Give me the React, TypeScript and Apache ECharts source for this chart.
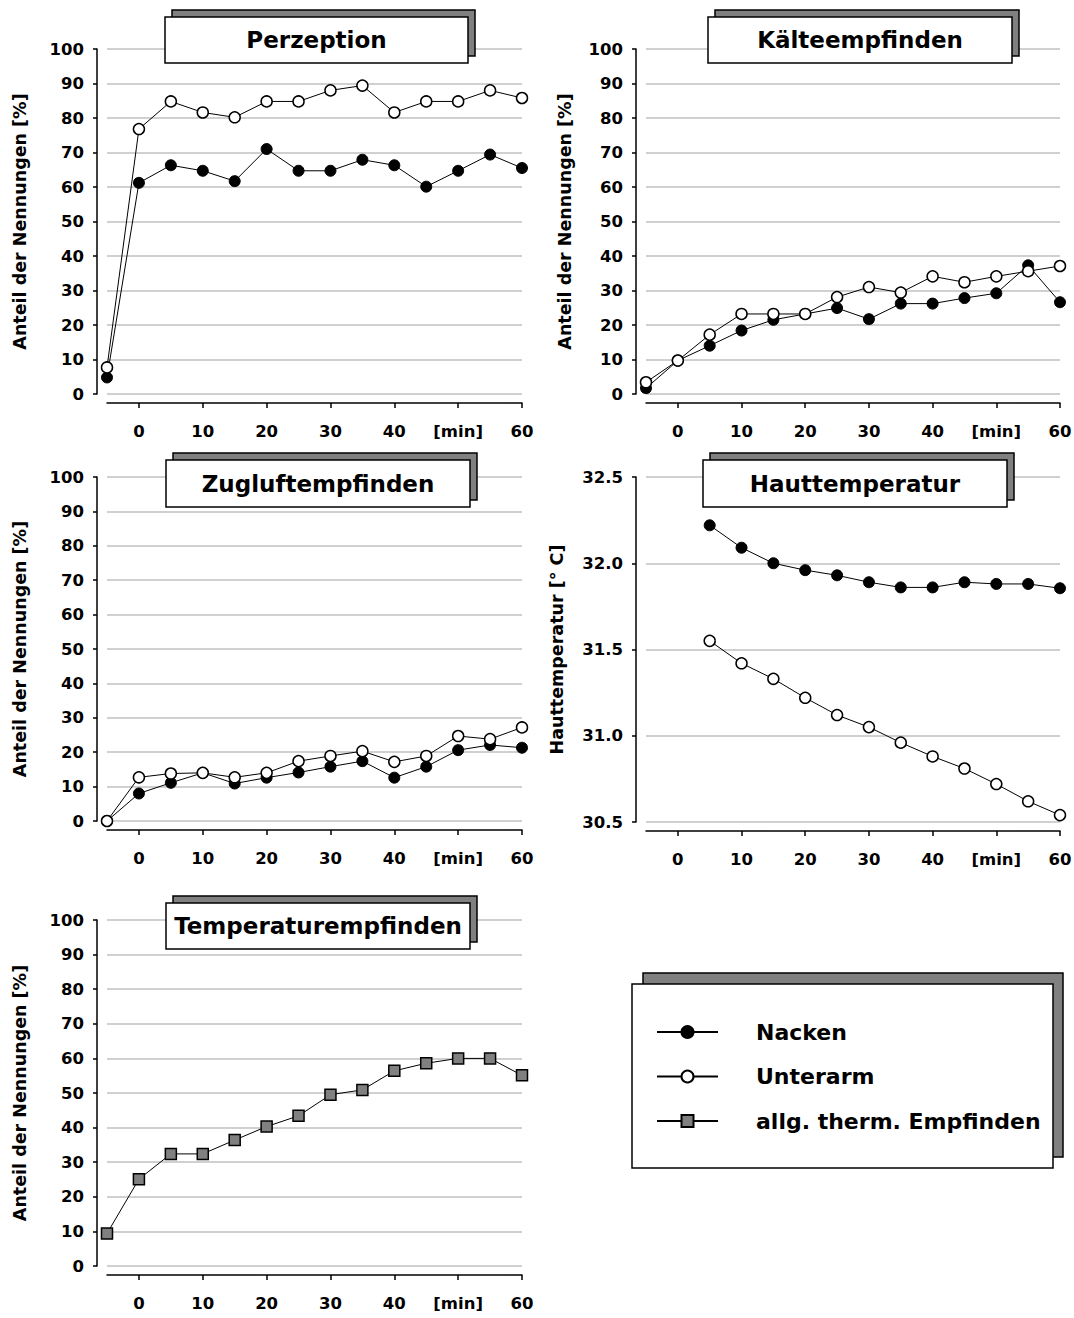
import React, { useEffect, useRef } from "react";
import * as echarts from "echarts";

const minutes = [-5, 0, 5, 10, 15, 20, 25, 30, 35, 40, 45, 50, 55, 60];
const hautMinutes = [5, 10, 15, 20, 25, 30, 35, 40, 45, 50, 55, 60];
const xTicks = [0, 10, 20, 30, 40, 50, 60];

const perzeptionNacken = [4.8, 61.2, 66.3, 64.7, 61.7, 71.0, 64.7, 64.7, 67.9, 66.3, 60.1, 64.7, 69.4, 65.5];
const perzeptionUnterarm = [7.7, 76.8, 84.8, 81.6, 80.2, 84.8, 84.8, 88.0, 89.4, 81.6, 84.8, 84.8, 88.0, 85.8];

const kaelteNacken = [1.7, 9.7, 14.0, 18.4, 21.5, 23.2, 24.9, 21.7, 26.2, 26.2, 27.8, 29.2, 37.3, 26.6];
const kaelteUnterarm = [3.4, 9.7, 17.2, 23.2, 23.2, 23.2, 28.1, 31.0, 29.4, 34.1, 32.4, 34.1, 35.6, 37.1];

const zugluftNacken = [0, 8.0, 11.1, 14.0, 10.9, 12.6, 14.1, 15.8, 17.4, 12.6, 15.8, 20.6, 22.1, 21.3];
const zugluftUnterarm = [0, 12.7, 13.8, 14.0, 12.7, 14.0, 17.4, 18.9, 20.3, 17.2, 18.9, 24.7, 23.8, 27.2];

const hautNacken = [32.22, 32.09, 32.0, 31.96, 31.93, 31.89, 31.86, 31.86, 31.89, 31.88, 31.88, 31.855];
const hautUnterarm = [31.55, 31.42, 31.33, 31.22, 31.12, 31.05, 30.96, 30.88, 30.81, 30.72, 30.62, 30.54];

const temperaturAllg = [9.4, 25.1, 32.4, 32.4, 36.4, 40.3, 43.4, 49.5, 50.9, 56.4, 58.6, 60.0, 60.0, 55.1];

const seriesNames = ["Nacken", "Unterarm", "allg. therm. Empfinden"];
const panelTitles = ["Perzeption", "Kälteempfinden", "Zugluftempfinden", "Hauttemperatur", "Temperaturempfinden"];
const yNames = [
  "Anteil der Nennungen [%]",
  "Anteil der Nennungen [%]",
  "Anteil der Nennungen [%]",
  "Hauttemperatur [° C]",
  "Anteil der Nennungen [%]",
];

const FONT = "DejaVu Sans";

export default function App() {
  const ref = useRef<HTMLDivElement>(null);

  useEffect(() => {
    if (!ref.current) return;
    const chart = echarts.init(ref.current, null, { renderer: "svg" });

    const grids = [
      { left: 107, top: 49, width: 415, height: 345 },
      { left: 646, top: 49, width: 414, height: 345 },
      { left: 107, top: 477, width: 415, height: 344 },
      { left: 646, top: 477, width: 414, height: 345 },
      { left: 107, top: 920, width: 415, height: 346 },
    ].map((g) => ({ ...g, containLabel: false, outerBoundsMode: "none" }));

    const nameGaps = [68, 62, 68, 70, 68];

    const black = { color: "#000", width: 1.5 };
    const xAxes = grids.map((_, i) => ({
      type: "value",
      gridIndex: i,
      min: -5,
      max: 60,
      offset: 9,
      axisLine: { show: true, onZero: false, lineStyle: black },
      axisTick: { show: true, length: 5, customValues: xTicks, lineStyle: black },
      axisLabel: {
        customValues: xTicks,
        formatter: (v: number) => (v === 50 ? "[min]" : String(v)),
        margin: 20,
        fontSize: 16.5,
        fontWeight: "bold",
        fontFamily: FONT,
        color: "#000",
      },
      splitLine: { show: false },
    }));

    const yAxes = grids.map((_, i) => {
      const isHaut = i === 3;
      return {
        type: "value",
        gridIndex: i,
        min: isHaut ? 30.5 : 0,
        max: isHaut ? 32.5 : 100,
        interval: isHaut ? 0.5 : 10,
        offset: 10,
        name: yNames[i],
        nameLocation: "middle",
        nameGap: nameGaps[i],
        nameRotate: 90,
        nameTextStyle: { fontSize: 17.5, fontWeight: "bold", fontFamily: FONT, color: "#000" },
        axisLine: { show: true, onZero: false, lineStyle: black },
        axisTick: { show: true, length: 4, lineStyle: black },
        axisLabel: {
          margin: 13,
          fontSize: 16.5,
          fontWeight: "bold",
          fontFamily: FONT,
          color: "#000",
          formatter: (v: number) => (isHaut ? v.toFixed(1) : String(v)),
        },
        splitLine: { show: true, lineStyle: { color: "#c0c0c0", width: 1.5 } },
      };
    });

    const line = { color: "#000", width: 1 };
    const nackenStyle = { color: "#000", borderColor: "#000", borderWidth: 1 };
    const unterarmStyle = { color: "#fff", borderColor: "#000", borderWidth: 1.5 };
    const allgStyle = { color: "#808080", borderColor: "#000", borderWidth: 1.5 };

    const mk = (name: string, idx: number, xs: number[], ys: number[], symbol: string, itemStyle: any) => ({
      type: "line",
      name,
      xAxisIndex: idx,
      yAxisIndex: idx,
      data: xs.map((x, k) => [x, ys[k]]),
      symbol,
      symbolSize: 11,
      showAllSymbol: true,
      clip: false,
      lineStyle: line,
      itemStyle,
      emphasis: { disabled: true },
    });

    const series = [
      mk(seriesNames[0], 0, minutes, perzeptionNacken, "circle", nackenStyle),
      mk(seriesNames[1], 0, minutes, perzeptionUnterarm, "circle", unterarmStyle),
      mk(seriesNames[0], 1, minutes, kaelteNacken, "circle", nackenStyle),
      mk(seriesNames[1], 1, minutes, kaelteUnterarm, "circle", unterarmStyle),
      mk(seriesNames[0], 2, minutes, zugluftNacken, "circle", nackenStyle),
      mk(seriesNames[1], 2, minutes, zugluftUnterarm, "circle", unterarmStyle),
      mk(seriesNames[0], 3, hautMinutes, hautNacken, "circle", nackenStyle),
      mk(seriesNames[1], 3, hautMinutes, hautUnterarm, "circle", unterarmStyle),
      mk(seriesNames[2], 4, minutes, temperaturAllg, "rect", allgStyle),
    ];

    const boxes = [
      { x: 165, y: 17, w: 303, h: 46 },
      { x: 708, y: 17, w: 304, h: 46 },
      { x: 166, y: 460, w: 304, h: 47 },
      { x: 703, y: 460, w: 304, h: 47 },
      { x: 166, y: 903, w: 304, h: 46 },
    ];

    const graphic: any[] = [];
    boxes.forEach((b, i) => {
      graphic.push({
        type: "rect",
        z: 100,
        shape: { x: b.x + 7, y: b.y - 7, width: b.w, height: b.h },
        style: { fill: "#808080", stroke: "#000", lineWidth: 1.5 },
        silent: true,
      });
      graphic.push({
        type: "rect",
        z: 101,
        shape: { x: b.x, y: b.y, width: b.w, height: b.h },
        style: { fill: "#fff", stroke: "#000", lineWidth: 1.5 },
        silent: true,
      });
      graphic.push({
        type: "text",
        z: 102,
        x: b.x + b.w / 2,
        y: b.y + b.h / 2,
        style: {
          text: panelTitles[i],
          fill: "#000",
          fontSize: 23,
          fontWeight: "bold",
          fontFamily: FONT,
          align: "center",
          verticalAlign: "middle",
        },
        silent: true,
      });
    });
    // legend frame
    graphic.push({
      type: "rect",
      z: 100,
      shape: { x: 643, y: 973, width: 420, height: 184 },
      style: { fill: "#808080", stroke: "#000", lineWidth: 1.5 },
      silent: true,
    });
    graphic.push({
      type: "rect",
      z: 101,
      shape: { x: 632, y: 984, width: 421, height: 184 },
      style: { fill: "#fff", stroke: "#000", lineWidth: 1.5 },
      silent: true,
    });

    chart.setOption({
      animation: false,
      backgroundColor: "#fff",
      textStyle: { fontFamily: FONT },
      grid: grids,
      xAxis: xAxes,
      yAxis: yAxes,
      series,
      legend: {
        data: seriesNames,
        orient: "vertical",
        left: 656,
        top: 1019,
        padding: 0,
        itemWidth: 61,
        itemHeight: 15,
        itemGap: 18.5,
        selectedMode: false,
        z: 110,
        textStyle: {
          fontSize: 22,
          fontWeight: "bold",
          fontFamily: FONT,
          color: "#000",
          lineHeight: 26,
          padding: [0, 0, 0, 33],
        },
      },
      graphic,
    });

    return () => chart.dispose();
  }, []);

  return (
    <div
      ref={ref}
      style={{ position: "absolute", left: 0, top: 0, width: 1074, height: 1318, background: "#fff" }}
    />
  );
}
